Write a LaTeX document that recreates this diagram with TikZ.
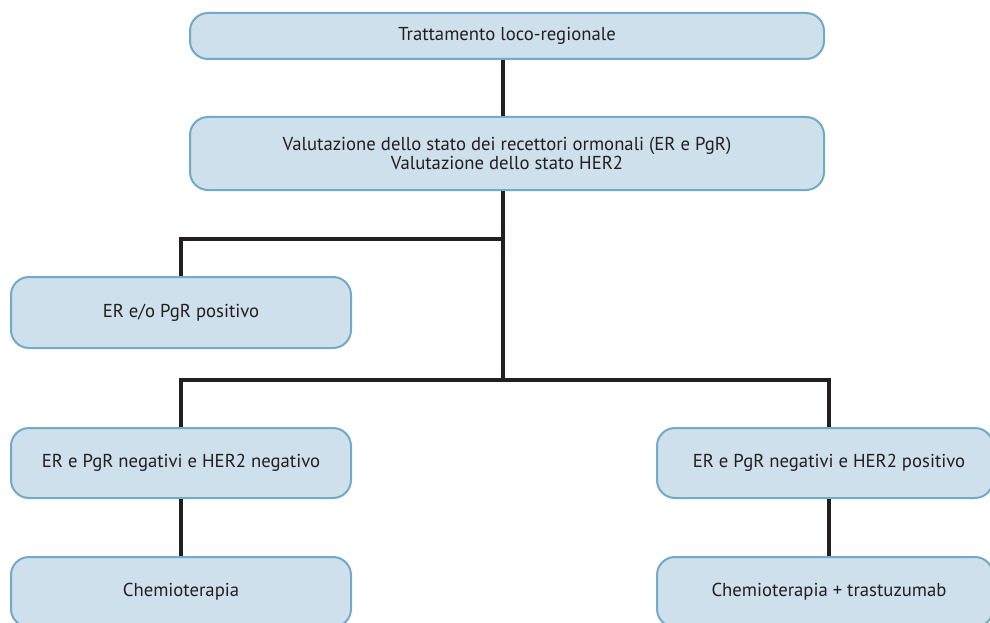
\documentclass[tikz,border=0pt]{standalone}
\usepackage{fontspec}
\setmainfont{PT Sans}
\definecolor{boxfill}{HTML}{CDE0EB}
\definecolor{boxline}{HTML}{72AAC8}
\definecolor{linecol}{HTML}{231F20}
\begin{document}
\begin{tikzpicture}[x=1pt,y=-1pt,
  box/.style={draw=boxline, fill=boxfill, line width=2pt, rounded corners=18pt,
    align=center, text=linecol, inner sep=0pt,
    font=\fontsize{18.7}{19.5}\selectfont},
  link/.style={draw=linecol, line width=4pt, line join=miter}]
\useasboundingbox (0,0) rectangle (990,623);
\clip (0,0) rectangle (990,623);

% boxes
\node[box, minimum width=634, minimum height=46] (b1) at (507,36)
  {Trattamento loco-regionale};
\node[box, minimum width=634, minimum height=73] (b2) at (507,153.5)
  {Valutazione dello stato dei recettori ormonali (ER e PgR)\\Valutazione dello stato HER2};
\node[box, minimum width=340, minimum height=71] (b3) at (181,312.5)
  {ER e/o PgR positivo};
\node[box, minimum width=340, minimum height=70] (b4) at (181,463)
  {ER e PgR negativi e HER2 negativo};
\node[box, minimum width=336, minimum height=70] (b5) at (825,463)
  {\hspace*{8pt}ER e PgR negativi e HER2 positivo};
\node[box, minimum width=340, minimum height=70] (b6) at (181,592)
  {Chemioterapia};
\node[box, minimum width=336, minimum height=70] (b7) at (825,592)
  {\hspace*{8pt}Chemioterapia + trastuzumab};

% branch points
\coordinate (j1) at (503,239);
\coordinate (j2) at (503,380);

% connectors
\draw[link] ([xshift=-4pt]b1.south) -- ([xshift=-4pt]b2.north);
\draw[link] ([xshift=-4pt]b2.south) -- (j2);
\draw[link] (j1) -| (b3.north);
\draw[link] (b4.north) |- (j2) -| ([xshift=4pt]b5.north);
\draw[link] (b4.south) -- (b6.north);
\draw[link] ([xshift=4pt]b5.south) -- ([xshift=4pt]b7.north);
\end{tikzpicture}
\end{document}
